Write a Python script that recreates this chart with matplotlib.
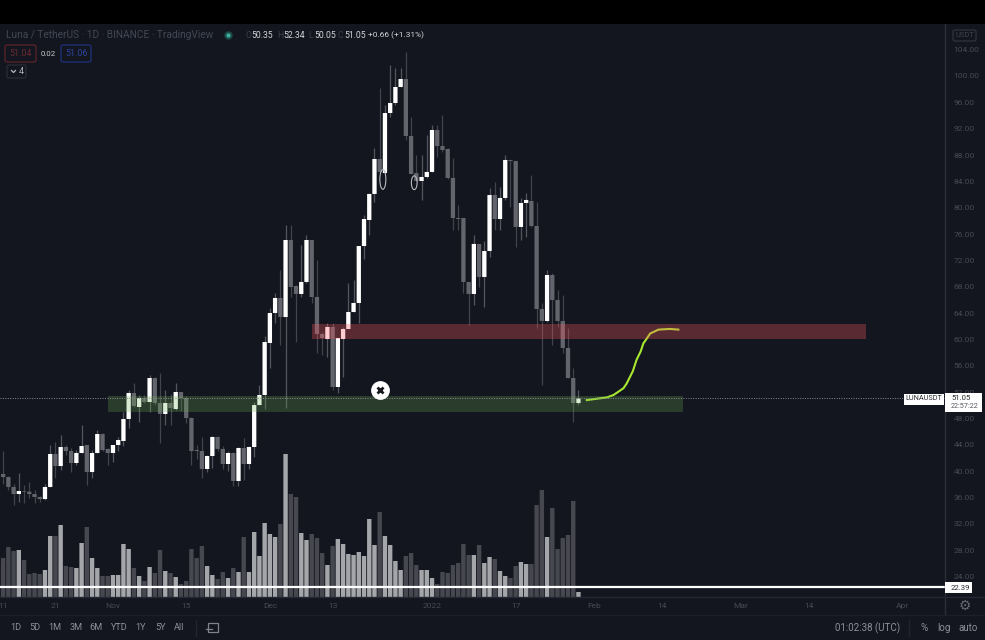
import numpy as np
import matplotlib
matplotlib.use("Agg")
import matplotlib.pyplot as plt
from matplotlib.patches import Rectangle, Ellipse, FancyBboxPatch

plt.rcParams['font.family'] = ['Roboto', 'DejaVu Sans']

first_day = -22  # days relative to 1 Nov 2021
opens = [40.2,39.58,39.12,37.61,36.54,37.00,36.90,36.54,36.09,35.78,
         37.61,42.62,40.79,43.68,43.07,41.25,42.77,43.98,39.88,42.77,
         45.65,43.38,42.77,43.98,44.59,47.93,51.88,49.75,51.12,50.51,
         54.15,50.36,48.69,50.36,49.45,52.03,51.12,48.08,43.22,43.07,
         40.34,42.31,45.20,43.38,41.10,42.77,38.52,43.53,41.10,43.68,
         50.05,51.57,59.47,64.02,66.30,63.41,75.10,68.12,66.91,68.73,
         75.10,66.45,60.83,60.07,61.90,52.79,60.07,61.59,64.17,65.54,
         74.19,78.14,82.09,87.40,85.27,94.38,95.90,98.33,99.54,90.89,
         85.27,84.06,84.67,85.43,91.80,89.37,88.92,84.52,78.44,78.44,
         68.73,66.91,74.50,69.49,73.43,81.93,78.29,81.48,87.25,87.10,
         77.08,80.72,81.02,77.23,64.63,62.81,69.79,66.00,62.81,58.71,54.15,50.35]
closes = [39.6,39.12,37.61,36.54,37.00,36.90,36.54,36.09,35.78,37.61,
          42.62,40.79,43.68,43.07,41.25,42.77,43.83,39.88,42.77,45.65,
          43.22,42.77,43.98,44.74,47.93,51.88,49.90,51.12,50.51,54.15,
          50.36,48.69,50.36,49.60,52.03,51.12,48.08,43.07,43.07,40.34,
          42.31,45.20,43.38,41.10,42.77,38.52,43.53,41.10,43.68,50.05,
          51.57,59.62,64.02,66.30,63.41,75.10,67.97,66.91,68.73,75.10,
          66.45,60.83,60.23,61.90,52.79,60.23,61.59,64.17,65.54,74.19,
          78.29,82.09,87.40,85.43,94.38,95.90,98.33,99.54,90.89,85.12,
          84.06,84.67,85.43,91.80,89.37,88.77,84.52,78.44,78.29,68.73,
          66.91,74.50,69.49,73.43,81.93,78.29,81.48,87.25,87.10,77.08,
          80.72,81.18,77.23,64.63,62.81,69.79,66.00,62.81,58.71,54.15,50.35,51.05]
highs = [44,43,39.3,38,39.7,37.9,38.4,37.2,36.2,38,
         44,44.4,45.5,44,43.6,43.3,47,44,43.2,46.3,
         45.8,43.5,44,45.2,49,52.4,53.4,51.6,51.6,54.6,
         54.3,54.9,52.3,51.8,53.4,52.1,51.4,48.3,44,45.2,
         42.5,45.3,45.3,43.8,43,42.9,43.7,45.1,43.9,50.5,
         53.1,60.6,64.8,67,70.5,77.4,77.4,68.3,74.3,75.9,
         75.1,72,61.1,62.5,62.5,60.2,61.9,68.6,69,74.2,
         78.9,82.2,89.1,98.2,95.6,101.7,101.2,101.2,103.6,93.8,
         88,88,91,92.6,92.6,94.1,89.1,87.5,80.4,78.4,
         68.7,75.9,74.5,75,83,83.9,83.1,88,87.3,87.1,
         81.5,82.2,85,80.8,65.5,70.5,70.1,67.5,66.8,61.7,55.7,52.34]
lows = [39,38,37.2,34.9,35.3,35.2,35.9,35.2,35.3,35.6,
        37.6,39,40.2,42.5,39.9,40.9,42.7,37.9,38.9,42.7,
        43,41,41.4,43,43.8,46.6,49.8,47.5,50.3,49,
        50,44.3,47,47,49.3,49.2,47.3,41,41.9,39,
        39.9,40.5,43,40.3,40.1,37.8,37.8,38.7,40.4,42.2,
        50,49.5,55.7,62.5,59.2,49.6,66.5,59.6,66.5,68.6,
        65.5,58,57.6,57.3,52.3,51.9,54.3,61.7,64.2,62.5,
        72.2,75.9,80.9,85.3,85.1,93.8,95.6,98.3,90.3,85.1,
        84,81.2,84.5,85.4,87.7,88.5,84.4,76.6,76.6,67,
        62.2,65.2,68,64.9,72.5,76.6,76.6,81.2,80.1,74,
        75.1,75.6,77,61.7,53.1,62.7,59.2,61.9,58,54.2,47.5,50.05]
volumes = [32,39,50,46,47,37,23,24,23,27,
           61,61,72,31,30,29,54,70,39,29,
           21,21,22,22,53,48,29,21,16,30,
           24,47,26,24,20,13,16,48,39,51,
           31,22,18,25,19,29,25,60,25,65,
           41,74,63,60,73,143,103,100,64,57,
           63,59,44,32,51,58,53,43,42,45,
           41,78,52,85,61,52,36,27,41,44,
           32,27,27,19,13,25,24,32,34,53,
           42,42,52,34,40,38,26,21,19,31,
           35,33,33,92,107,60,89,48,59,62,96,5]

forecast_days = [90.6,93.1,94.4,95.7,96.5,97.6,98.2,98.9,99.4,100.1,100.9,101.4,102.2,102.7,104.3,106.5,108.1]
forecast_prices = [50.8,51.07,51.2,51.57,52.0,52.6,53.3,54.4,55.2,56.9,58.2,59.4,60.3,60.9,61.5,61.6,61.5]

green_zone = (-0.96, 109.0, 48.99, 51.42)
red_zone = (38.0, 144.0, 60.07, 62.28)
last_price = 51.05
level_line = 22.39
price_ticks = list(range(24, 108, 4))
date_ticks = [-21,-11,0,14,30,42,61,77,92,105,120,133,151]
date_labels = ["11","21","Nov","15","Dec","13","2022","17","Feb","14","Mar","14","Apr"]

BG = "#13161f"
DIM = "#474a55"
W, H = 985, 640
fig = plt.figure(figsize=(W/100, H/100), dpi=100, facecolor=BG)

axv = fig.add_axes([0, (H-597)/H, 945/W, 573/H], zorder=1)
ax = fig.add_axes([0, (H-597)/H, 945/W, 573/H], zorder=2)
ax.patch.set_visible(False)
axv.set_facecolor(BG)

days = first_day + np.arange(len(opens))
o, c, hi, lo = map(np.array, (opens, closes, highs, lows))
up = c >= o

vol_bars = axv.bar(days, volumes, width=0.84,
                   color=np.where(up, "#a5a6aa", "#46474f"), linewidth=0)
for b in vol_bars:
    b.set_snap(False)
axv.set_ylim(0, 573)
axv.set_xlim(-21.6, 159.08)
axv.set_xticks([]); axv.set_yticks([])
for s in axv.spines.values():
    s.set_visible(False)

ax.vlines(days, lo, hi, colors=np.where(up, "#55565d", "#42434b"), linewidth=0.9, zorder=2)
bodies = ax.bar(days, c-o, bottom=o, width=0.82,
                color=np.where(up, "#ffffff", "#63646c"), linewidth=0, zorder=3)
for b in bodies:
    b.set_snap(False)

ax.plot(forecast_days, forecast_prices, color="#a8e82e", lw=1.5, zorder=4)

ax.add_patch(Rectangle((green_zone[0], green_zone[2]), green_zone[1]-green_zone[0],
                       green_zone[3]-green_zone[2], fc="#6fb253", alpha=0.25, lw=0, zorder=5))
ax.add_patch(Rectangle((red_zone[0], red_zone[2]), red_zone[1]-red_zone[0],
                       red_zone[3]-red_zone[2], fc="#ff5962", alpha=0.30, lw=0, zorder=5))

ax.add_patch(Ellipse((51.6, 84.3), 1.15, 3.0, fc="none", ec="#b9bac0", lw=0.8, zorder=6))
ax.add_patch(Ellipse((57.6, 83.8), 1.1, 2.1, fc="none", ec="#b9bac0", lw=0.8, zorder=6))

ax.axhline(last_price, color="#8b8c92", lw=0.7, ls=(0, (1, 1.5)), zorder=6)
ax.axhline(level_line, color="#ffffff", lw=1.6, zorder=6)

ax.plot([51.05], [52.4], marker="o", ms=12.5, mfc="white", mec="white", zorder=7)
ax.plot([51.05], [52.4], marker="x", ms=4.6, mec="#16171d", mew=2.0, zorder=8)

ax.set_xlim(-21.6, 159.08)
ax.set_ylim(20.91, 107.89)
ax.yaxis.tick_right()
ax.set_yticks(price_ticks)
ax.set_yticklabels([f"{p:.2f}" for p in price_ticks])
ax.set_xticks(date_ticks)
ax.set_xticklabels(date_labels)
ax.tick_params(axis="y", length=0, pad=6, labelsize=6, labelcolor=DIM)
ax.tick_params(axis="x", length=0, pad=4, labelsize=6, labelcolor=DIM)
for s in ax.spines.values():
    s.set_visible(False)

# interface chrome, in pixel coordinates
ui = fig.add_axes([0, 0, 1, 1], zorder=5)
ui.set_xlim(0, W); ui.set_ylim(H, 0); ui.axis("off")
ui.add_patch(Rectangle((0, 0), W, 24, fc="#000000", lw=0))
ui.plot([945, 945], [24, 615], color="#2c2e38", lw=1)
ui.plot([0, 985], [597, 597], color="#262833", lw=1)
ui.plot([0, 985], [615, 615], color="#1d1f29", lw=1)

ui.text(6, 35, "Luna / TetherUS · 1D · BINANCE · TradingView", color="#434754", fontsize=7.3, va="center")
ui.plot([228], [35], marker="o", ms=6, mfc="#1c4a47", mec="none")
ui.plot([228], [35], marker="o", ms=3, mfc="#3fae9c", mec="none")
for x, letter, value in [(245, "O", "50.35"), (277, "H", "52.34"), (308, "L", "50.05"), (338, "C", "51.05")]:
    ui.text(x, 35.5, letter, color="#3d404b", fontsize=6.2, va="center")
    ui.text(x+6, 35.5, value, color="#d4d5d9", fontsize=6.2, va="center")
ui.text(368, 35.5, "+0.66 (+1.31%)", color="#d4d5d9", fontsize=6.0, va="center")

def box(x0, y0, x1, y1, ec, fc="none", lw=0.9):
    ui.add_patch(FancyBboxPatch((x0+1, y0+1), x1-x0-2, y1-y0-2, boxstyle="round,pad=1,rounding_size=2",
                                fc=fc, ec=ec, lw=lw, zorder=3))

box(5, 45, 36, 62, "#5c2329")
ui.text(20.5, 53.5, "51.04", color="#6a2a30", fontsize=6.4, ha="center", va="center")
ui.text(48.5, 53.5, "0.02", color="#c9cad0", fontsize=5.6, ha="center", va="center")
box(61, 45, 91, 62, "#20327e")
ui.text(76, 53.5, "51.06", color="#2c45a0", fontsize=6.4, ha="center", va="center")
box(7, 65, 26, 78, "#2a2c36")
ui.plot([11.5, 13.5, 15.5], [70.5, 72.5, 70.5], color="#b8b9c0", lw=0.9)
ui.text(21, 71.5, "4", color="#b8b9c0", fontsize=6.4, ha="center", va="center")
box(953, 30, 976, 41, "#30323c")
ui.text(964.5, 35.5, "USDT", color="#3f424d", fontsize=5.4, ha="center", va="center")

ui.add_patch(Rectangle((904, 393.5), 40, 11, fc="white", lw=0, zorder=4))
ui.text(924, 399, "LUNAUSDT", color="#2a2b31", fontsize=5.2, ha="center", va="center", zorder=5)
ui.add_patch(Rectangle((945, 393), 37, 19, fc="white", lw=0, zorder=4))
ui.text(951, 398.5, "51.05", color="#2a2b31", fontsize=5.6, va="center", zorder=5)
ui.text(951, 407, "22:57:22", color="#55565c", fontsize=5.2, va="center", zorder=5)
ui.add_patch(Rectangle((945, 582), 27, 11, fc="white", lw=0, zorder=4))
ui.text(951, 587.5, "22.39", color="#2a2b31", fontsize=5.6, va="center", zorder=5)
ui.text(965, 605.5, "⚙", color="#666973", fontsize=10, ha="center", va="center", family="DejaVu Sans")

for x, label in [(16, "1D"), (35, "5D"), (55, "1M"), (76, "3M"), (96, "6M"), (119, "YTD"), (141, "1Y"), (160, "5Y"), (179, "All")]:
    ui.text(x, 628, label, color="#8d9099", fontsize=6.6, ha="center", va="center")
ui.plot([195.5, 195.5], [620, 636], color="#22242e", lw=1)
ui.add_patch(Rectangle((208, 622.5), 10, 9, fc="none", ec="#80838c", lw=0.9))
ui.plot([206, 212], [629, 629], color="#80838c", lw=0.9)
ui.text(868, 628, "01:02:38 (UTC)", color="#8d9099", fontsize=7, ha="center", va="center")
ui.plot([909, 909], [620, 636], color="#22242e", lw=1)
ui.text(924, 628, "%", color="#8d9099", fontsize=7.2, ha="center", va="center")
ui.text(944, 628, "log", color="#8d9099", fontsize=7, ha="center", va="center")
ui.text(968, 628, "auto", color="#8d9099", fontsize=7, ha="center", va="center")

fig.savefig("out.png", dpi=100, facecolor=BG)
